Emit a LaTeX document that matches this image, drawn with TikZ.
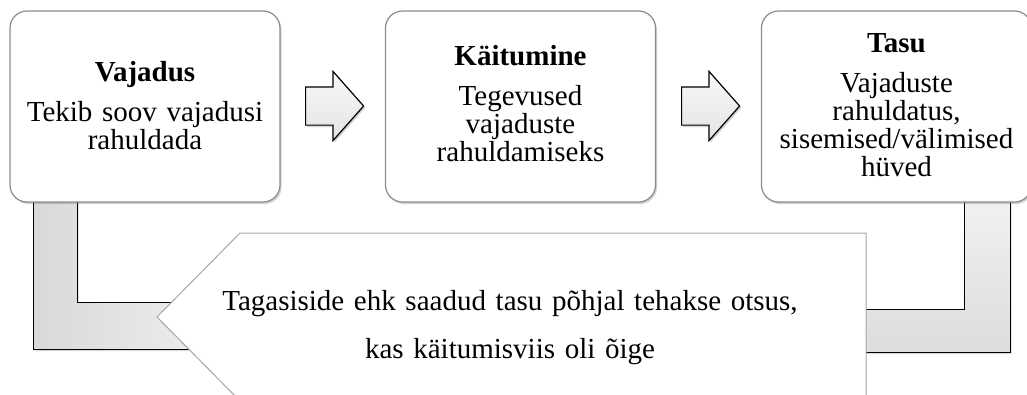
\documentclass[tikz,border=0pt]{standalone}
\usepackage{fontspec}
\setmainfont{Liberation Serif}
\usetikzlibrary{shapes.arrows,shadows}
\begin{document}
\begin{tikzpicture}[x=1pt,y=-1pt,
  box/.style={draw=black!45, line width=1.2pt, fill=white, rounded corners=17pt,
    minimum width=270pt, minimum height=191pt, inner sep=0pt,
    drop shadow={shadow xshift=1.5pt, shadow yshift=-2pt, fill=black!60, opacity=0.3}},
  boxtext/.style={text width=266pt, align=center, anchor=base, inner sep=0pt,
    font=\fontsize{29}{28}\selectfont},
  arrowshape/.style={single arrow, draw=black, line width=1.2pt,
    top color=gray!5, bottom color=gray!22,
    minimum height=58pt, minimum width=68pt,
    single arrow head extend=15.5pt, single arrow head indent=0pt,
    single arrow tip angle=97, inner xsep=0pt, inner ysep=18.5pt, anchor=tail,
    drop shadow={shadow xshift=1.5pt, shadow yshift=-2pt, fill=black!60, opacity=0.3}},
  band/.style={draw=black, line width=1pt,
    drop shadow={shadow xshift=1.5pt, shadow yshift=-2pt, fill=black!60, opacity=0.25}},
  callout/.style={draw=black!35, line width=1pt, fill=white},
  fbtext/.style={text width=700pt, align=center, anchor=base, inner sep=0pt,
    font=\fontsize{29}{48}\selectfont}
]
\useasboundingbox (0,0) rectangle (1027,394);
\clip (0,0) rectangle (1027,394);

% feedback bands
\draw[band, left color=gray!30, right color=gray!5]
  (33,190) -- (77,190) -- (77,302) -- (300,302) -- (300,349) -- (33,349) -- cycle;
\draw[band, top color=gray!10, bottom color=gray!27]
  (964,190) -- (1010,190) -- (1010,352) -- (700,352) -- (700,309) -- (964,309) -- cycle;

% boxes
\node[box] (vajadus) at (145,106.5) {};
\node[box] (kaitumine) at (520.5,106.5) {};
\node[box] (tasu) at (896.5,106.5) {};

\node[boxtext] (vajadusT) at (145,81) {\textbf{Vajadus}\\[12pt]Tekib soov vajadusi\\rahuldada};
\node[boxtext] (kaitumineT) at (520.5,65) {\textbf{Käitumine}\\[12pt]Tegevused\\vajaduste\\rahuldamiseks};
\node[boxtext] (tasuT) at (896.5,52) {\textbf{Tasu}\\[12pt]Vajaduste\\rahuldatus,\\sisemised/välimised\\hüved};

% arrows
\node[arrowshape] (arr1) at (305,106) {};
\node[arrowshape] (arr2) at (681,106) {};

% callout
\draw[callout] (157,317) -- (240,233) -- (866,233) -- (866,401) -- (240,401) -- cycle;
\node[fbtext] (tagasiside) at (510,310) {Tagasiside ehk saadud tasu põhjal tehakse otsus,\\kas käitumisviis oli õige};
\end{tikzpicture}
\end{document}
